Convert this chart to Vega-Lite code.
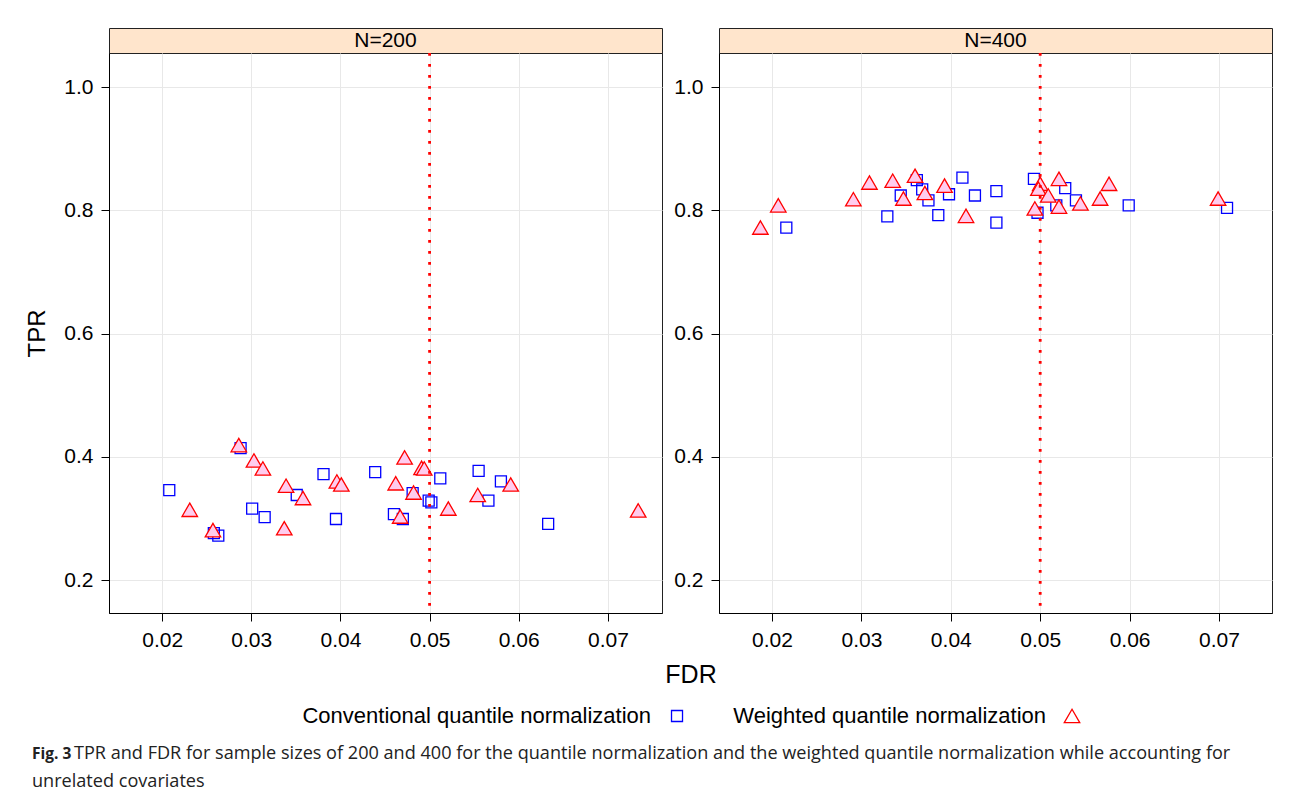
{
  "$schema": "https://vega.github.io/schema/vega-lite/v6.json",
  "padding": {"left": 25, "top": 27, "right": 5, "bottom": 5},
  "background": "white",
  "config": {
    "font": "Liberation Sans",
    "view": {"stroke": "#222"},
    "axis": {"labelFontSize": 21, "labelColor": "#000", "tickColor": "#000", "domainColor": "#000", "tickSize": 8, "labelPadding": 8, "gridColor": "#e8e8e8", "gridWidth": 1, "titleFontSize": 24, "titleFontWeight": "normal", "titleColor": "#000", "labelFont": "Liberation Sans", "titleFont": "Liberation Sans"}
  },
  "datasets": {
    "pts": [
      {"N": "N=200", "method": "Conventional quantile normalization", "fdr": 0.0208, "tpr": 0.346},
      {"N": "N=200", "method": "Conventional quantile normalization", "fdr": 0.0258, "tpr": 0.276},
      {"N": "N=200", "method": "Conventional quantile normalization", "fdr": 0.0263, "tpr": 0.272},
      {"N": "N=200", "method": "Conventional quantile normalization", "fdr": 0.0288, "tpr": 0.414},
      {"N": "N=200", "method": "Conventional quantile normalization", "fdr": 0.0301, "tpr": 0.316},
      {"N": "N=200", "method": "Conventional quantile normalization", "fdr": 0.0315, "tpr": 0.302},
      {"N": "N=200", "method": "Conventional quantile normalization", "fdr": 0.0351, "tpr": 0.338},
      {"N": "N=200", "method": "Conventional quantile normalization", "fdr": 0.0381, "tpr": 0.372},
      {"N": "N=200", "method": "Conventional quantile normalization", "fdr": 0.0395, "tpr": 0.299},
      {"N": "N=200", "method": "Conventional quantile normalization", "fdr": 0.0439, "tpr": 0.375},
      {"N": "N=200", "method": "Conventional quantile normalization", "fdr": 0.0460, "tpr": 0.307},
      {"N": "N=200", "method": "Conventional quantile normalization", "fdr": 0.0470, "tpr": 0.299},
      {"N": "N=200", "method": "Conventional quantile normalization", "fdr": 0.0481, "tpr": 0.341},
      {"N": "N=200", "method": "Conventional quantile normalization", "fdr": 0.0512, "tpr": 0.365},
      {"N": "N=200", "method": "Conventional quantile normalization", "fdr": 0.0499, "tpr": 0.329},
      {"N": "N=200", "method": "Conventional quantile normalization", "fdr": 0.0502, "tpr": 0.326},
      {"N": "N=200", "method": "Conventional quantile normalization", "fdr": 0.0555, "tpr": 0.377},
      {"N": "N=200", "method": "Conventional quantile normalization", "fdr": 0.0580, "tpr": 0.360},
      {"N": "N=200", "method": "Conventional quantile normalization", "fdr": 0.0566, "tpr": 0.329},
      {"N": "N=200", "method": "Conventional quantile normalization", "fdr": 0.0633, "tpr": 0.291},
      {"N": "N=200", "method": "Weighted quantile normalization", "fdr": 0.0231, "tpr": 0.314},
      {"N": "N=200", "method": "Weighted quantile normalization", "fdr": 0.0257, "tpr": 0.281},
      {"N": "N=200", "method": "Weighted quantile normalization", "fdr": 0.0286, "tpr": 0.419},
      {"N": "N=200", "method": "Weighted quantile normalization", "fdr": 0.0303, "tpr": 0.394},
      {"N": "N=200", "method": "Weighted quantile normalization", "fdr": 0.0313, "tpr": 0.381},
      {"N": "N=200", "method": "Weighted quantile normalization", "fdr": 0.0339, "tpr": 0.353},
      {"N": "N=200", "method": "Weighted quantile normalization", "fdr": 0.0358, "tpr": 0.333},
      {"N": "N=200", "method": "Weighted quantile normalization", "fdr": 0.0337, "tpr": 0.284},
      {"N": "N=200", "method": "Weighted quantile normalization", "fdr": 0.0396, "tpr": 0.360},
      {"N": "N=200", "method": "Weighted quantile normalization", "fdr": 0.0401, "tpr": 0.355},
      {"N": "N=200", "method": "Weighted quantile normalization", "fdr": 0.0462, "tpr": 0.357},
      {"N": "N=200", "method": "Weighted quantile normalization", "fdr": 0.0472, "tpr": 0.399},
      {"N": "N=200", "method": "Weighted quantile normalization", "fdr": 0.0467, "tpr": 0.303},
      {"N": "N=200", "method": "Weighted quantile normalization", "fdr": 0.0491, "tpr": 0.382},
      {"N": "N=200", "method": "Weighted quantile normalization", "fdr": 0.0494, "tpr": 0.381},
      {"N": "N=200", "method": "Weighted quantile normalization", "fdr": 0.0482, "tpr": 0.342},
      {"N": "N=200", "method": "Weighted quantile normalization", "fdr": 0.0521, "tpr": 0.316},
      {"N": "N=200", "method": "Weighted quantile normalization", "fdr": 0.0554, "tpr": 0.338},
      {"N": "N=200", "method": "Weighted quantile normalization", "fdr": 0.0591, "tpr": 0.355},
      {"N": "N=200", "method": "Weighted quantile normalization", "fdr": 0.0734, "tpr": 0.313},
      {"N": "N=400", "method": "Conventional quantile normalization", "fdr": 0.0216, "tpr": 0.772},
      {"N": "N=400", "method": "Conventional quantile normalization", "fdr": 0.0329, "tpr": 0.790},
      {"N": "N=400", "method": "Conventional quantile normalization", "fdr": 0.0344, "tpr": 0.824},
      {"N": "N=400", "method": "Conventional quantile normalization", "fdr": 0.0362, "tpr": 0.849},
      {"N": "N=400", "method": "Conventional quantile normalization", "fdr": 0.0368, "tpr": 0.834},
      {"N": "N=400", "method": "Conventional quantile normalization", "fdr": 0.0375, "tpr": 0.816},
      {"N": "N=400", "method": "Conventional quantile normalization", "fdr": 0.0386, "tpr": 0.792},
      {"N": "N=400", "method": "Conventional quantile normalization", "fdr": 0.0398, "tpr": 0.826},
      {"N": "N=400", "method": "Conventional quantile normalization", "fdr": 0.0413, "tpr": 0.853},
      {"N": "N=400", "method": "Conventional quantile normalization", "fdr": 0.0427, "tpr": 0.824},
      {"N": "N=400", "method": "Conventional quantile normalization", "fdr": 0.0451, "tpr": 0.831},
      {"N": "N=400", "method": "Conventional quantile normalization", "fdr": 0.0451, "tpr": 0.780},
      {"N": "N=400", "method": "Conventional quantile normalization", "fdr": 0.0493, "tpr": 0.851},
      {"N": "N=400", "method": "Conventional quantile normalization", "fdr": 0.0528, "tpr": 0.836},
      {"N": "N=400", "method": "Conventional quantile normalization", "fdr": 0.0540, "tpr": 0.816},
      {"N": "N=400", "method": "Conventional quantile normalization", "fdr": 0.0518, "tpr": 0.808},
      {"N": "N=400", "method": "Conventional quantile normalization", "fdr": 0.0497, "tpr": 0.796},
      {"N": "N=400", "method": "Conventional quantile normalization", "fdr": 0.0599, "tpr": 0.808},
      {"N": "N=400", "method": "Conventional quantile normalization", "fdr": 0.0709, "tpr": 0.804},
      {"N": "N=400", "method": "Weighted quantile normalization", "fdr": 0.0187, "tpr": 0.772},
      {"N": "N=400", "method": "Weighted quantile normalization", "fdr": 0.0207, "tpr": 0.808},
      {"N": "N=400", "method": "Weighted quantile normalization", "fdr": 0.0291, "tpr": 0.818},
      {"N": "N=400", "method": "Weighted quantile normalization", "fdr": 0.0309, "tpr": 0.845},
      {"N": "N=400", "method": "Weighted quantile normalization", "fdr": 0.0335, "tpr": 0.848},
      {"N": "N=400", "method": "Weighted quantile normalization", "fdr": 0.0360, "tpr": 0.856},
      {"N": "N=400", "method": "Weighted quantile normalization", "fdr": 0.0347, "tpr": 0.819},
      {"N": "N=400", "method": "Weighted quantile normalization", "fdr": 0.0371, "tpr": 0.828},
      {"N": "N=400", "method": "Weighted quantile normalization", "fdr": 0.0393, "tpr": 0.840},
      {"N": "N=400", "method": "Weighted quantile normalization", "fdr": 0.0417, "tpr": 0.791},
      {"N": "N=400", "method": "Weighted quantile normalization", "fdr": 0.0500, "tpr": 0.843},
      {"N": "N=400", "method": "Weighted quantile normalization", "fdr": 0.0498, "tpr": 0.835},
      {"N": "N=400", "method": "Weighted quantile normalization", "fdr": 0.0521, "tpr": 0.851},
      {"N": "N=400", "method": "Weighted quantile normalization", "fdr": 0.0509, "tpr": 0.824},
      {"N": "N=400", "method": "Weighted quantile normalization", "fdr": 0.0494, "tpr": 0.803},
      {"N": "N=400", "method": "Weighted quantile normalization", "fdr": 0.0521, "tpr": 0.806},
      {"N": "N=400", "method": "Weighted quantile normalization", "fdr": 0.0545, "tpr": 0.811},
      {"N": "N=400", "method": "Weighted quantile normalization", "fdr": 0.0567, "tpr": 0.819},
      {"N": "N=400", "method": "Weighted quantile normalization", "fdr": 0.0577, "tpr": 0.843},
      {"N": "N=400", "method": "Weighted quantile normalization", "fdr": 0.0699, "tpr": 0.819}
    ]
  },
  "vconcat": [
    {
      "title": {"text": "FDR", "orient": "bottom", "anchor": "middle", "frame": "group", "fontSize": 25, "fontWeight": "normal", "font": "Liberation Sans", "color": "#000", "dx": 582, "offset": 12},
      "hconcat": [
        {
          "vconcat": [
            {
              "width": 553, "height": 25,
              "view": {"fill": "#ffe5cc", "stroke": "#222"},
              "data": {"values": [{"label": "N=200"}]},
              "mark": {"type": "text", "fontSize": 21, "baseline": "middle", "color": "#000"},
              "encoding": {"text": {"field": "label"}}
            },
            {
              "width": 553, "height": 560,
              "layer": [
                {
                  "data": {"name": "pts"},
                  "transform": [{"filter": "datum.N == 'N=200' && datum.method == 'Conventional quantile normalization'"}],
                  "mark": {"type": "point", "shape": "square", "size": 121, "filled": false, "stroke": "#0000ff", "strokeWidth": 1.3, "opacity": 1},
                  "encoding": {
                    "x": {"field": "fdr", "type": "quantitative", "scale": {"domain": [0.01404, 0.07607], "nice": false, "zero": false}, "axis": {"values": [0.02, 0.03, 0.04, 0.05, 0.06, 0.07], "format": ".2f", "title": null}},
                    "y": {"field": "tpr", "type": "quantitative", "scale": {"domain": [0.1465, 1.0552], "nice": false, "zero": false}, "axis": {"values": [0.2, 0.4, 0.6, 0.8, 1.0], "format": ".1f", "title": "TPR", "titlePadding": 14}}
                  }
                },
                {
                  "data": {"name": "pts"},
                  "transform": [{"filter": "datum.N == 'N=200' && datum.method == 'Weighted quantile normalization'"}],
                  "mark": {"type": "point", "shape": "triangle-up", "size": 240, "filled": true, "fill": "#ffccee", "stroke": "#ff0000", "strokeWidth": 1.3, "opacity": 1},
                  "encoding": {
                    "x": {"field": "fdr", "type": "quantitative"},
                    "y": {"field": "tpr", "type": "quantitative"}
                  }
                },
                {
                  "data": {"values": [{"ref": 0.05}]},
                  "mark": {"type": "rule", "color": "#ff0000", "strokeWidth": 2.8, "strokeDash": [2.8, 8.2]},
                  "encoding": {"x": {"field": "ref", "type": "quantitative"}}
                }
              ]
            }
          ],
          "spacing": 0,
          "bounds": "flush"
        },
        {
          "vconcat": [
            {
              "width": 553, "height": 25,
              "view": {"fill": "#ffe5cc", "stroke": "#222"},
              "data": {"values": [{"label": "N=400"}]},
              "mark": {"type": "text", "fontSize": 21, "baseline": "middle", "color": "#000"},
              "encoding": {"text": {"field": "label"}}
            },
            {
              "width": 553, "height": 560,
              "layer": [
                {
                  "data": {"name": "pts"},
                  "transform": [{"filter": "datum.N == 'N=400' && datum.method == 'Conventional quantile normalization'"}],
                  "mark": {"type": "point", "shape": "square", "size": 121, "filled": false, "stroke": "#0000ff", "strokeWidth": 1.3, "opacity": 1},
                  "encoding": {
                    "x": {"field": "fdr", "type": "quantitative", "scale": {"domain": [0.01407, 0.07593], "nice": false, "zero": false}, "axis": {"values": [0.02, 0.03, 0.04, 0.05, 0.06, 0.07], "format": ".2f", "title": null}},
                    "y": {"field": "tpr", "type": "quantitative", "scale": {"domain": [0.1465, 1.0552], "nice": false, "zero": false}, "axis": {"values": [0.2, 0.4, 0.6, 0.8, 1.0], "format": ".1f", "title": null}}
                  }
                },
                {
                  "data": {"name": "pts"},
                  "transform": [{"filter": "datum.N == 'N=400' && datum.method == 'Weighted quantile normalization'"}],
                  "mark": {"type": "point", "shape": "triangle-up", "size": 240, "filled": true, "fill": "#ffccee", "stroke": "#ff0000", "strokeWidth": 1.3, "opacity": 1},
                  "encoding": {
                    "x": {"field": "fdr", "type": "quantitative"},
                    "y": {"field": "tpr", "type": "quantitative"}
                  }
                },
                {
                  "data": {"values": [{"ref": 0.05}]},
                  "mark": {"type": "rule", "color": "#ff0000", "strokeWidth": 2.8, "strokeDash": [2.8, 8.2]},
                  "encoding": {"x": {"field": "ref", "type": "quantitative"}}
                }
              ]
            }
          ],
          "spacing": 0,
          "bounds": "flush"
        }
      ],
      "spacing": 10
    },
    {
      "width": 1162, "height": 20,
      "view": {"stroke": null},
      "data": {"values": [{"method": "Conventional quantile normalization"}, {"method": "Weighted quantile normalization"}]},
      "encoding": {
        "x": {"field": "method", "type": "nominal", "scale": {"type": "band", "paddingInner": 0, "paddingOuter": 0.4709, "align": 0.996}, "axis": null}
      },
      "layer": [
        {
          "mark": {"type": "text", "align": "right", "baseline": "middle", "fontSize": 22, "dx": -26, "color": "#000"},
          "encoding": {"text": {"field": "method"}}
        },
        {
          "mark": {"type": "point", "filled": false, "strokeWidth": 1.3, "opacity": 1},
          "encoding": {
            "shape": {"field": "method", "type": "nominal", "scale": {"range": ["square", "triangle-up"]}, "legend": null},
            "stroke": {"field": "method", "type": "nominal", "scale": {"range": ["#0000ff", "#ff0000"]}, "legend": null},
            "size": {"field": "method", "type": "nominal", "scale": {"range": [121, 240]}, "legend": null}
          }
        }
      ]
    },
    {
      "width": 1162, "height": 46,
      "view": {"stroke": null},
      "data": {"values": [
        {"seg": "bold", "line": 1, "text": "Fig. 3"},
        {"seg": "rest", "line": 1, "text": "TPR and FDR for sample sizes of 200 and 400 for the quantile normalization and the weighted quantile normalization while accounting for"},
        {"seg": "line2", "line": 2, "text": "unrelated covariates"}
      ]},
      "encoding": {
        "x": {"datum": 0, "type": "quantitative", "scale": {"domain": [0, 1]}, "axis": null},
        "y": {"field": "line", "type": "ordinal", "axis": null, "scale": {"padding": 0.3214}}
      },
      "layer": [
        {
          "transform": [{"filter": "datum.seg == 'bold'"}],
          "mark": {"type": "text", "align": "left", "baseline": "middle", "font": "Open Sans", "fontWeight": "bold", "fontSize": 15.5, "dx": -77, "color": "#222"},
          "encoding": {"text": {"field": "text"}}
        },
        {
          "transform": [{"filter": "datum.seg == 'rest'"}],
          "mark": {"type": "text", "align": "left", "baseline": "middle", "font": "Open Sans", "fontSize": 18.1, "dx": -35, "color": "#222"},
          "encoding": {"text": {"field": "text"}}
        },
        {
          "transform": [{"filter": "datum.seg == 'line2'"}],
          "mark": {"type": "text", "align": "left", "baseline": "middle", "font": "Open Sans", "fontSize": 18.1, "dx": -77, "color": "#222"},
          "encoding": {"text": {"field": "text"}}
        }
      ]
    }
  ],
  "spacing": 17
}
